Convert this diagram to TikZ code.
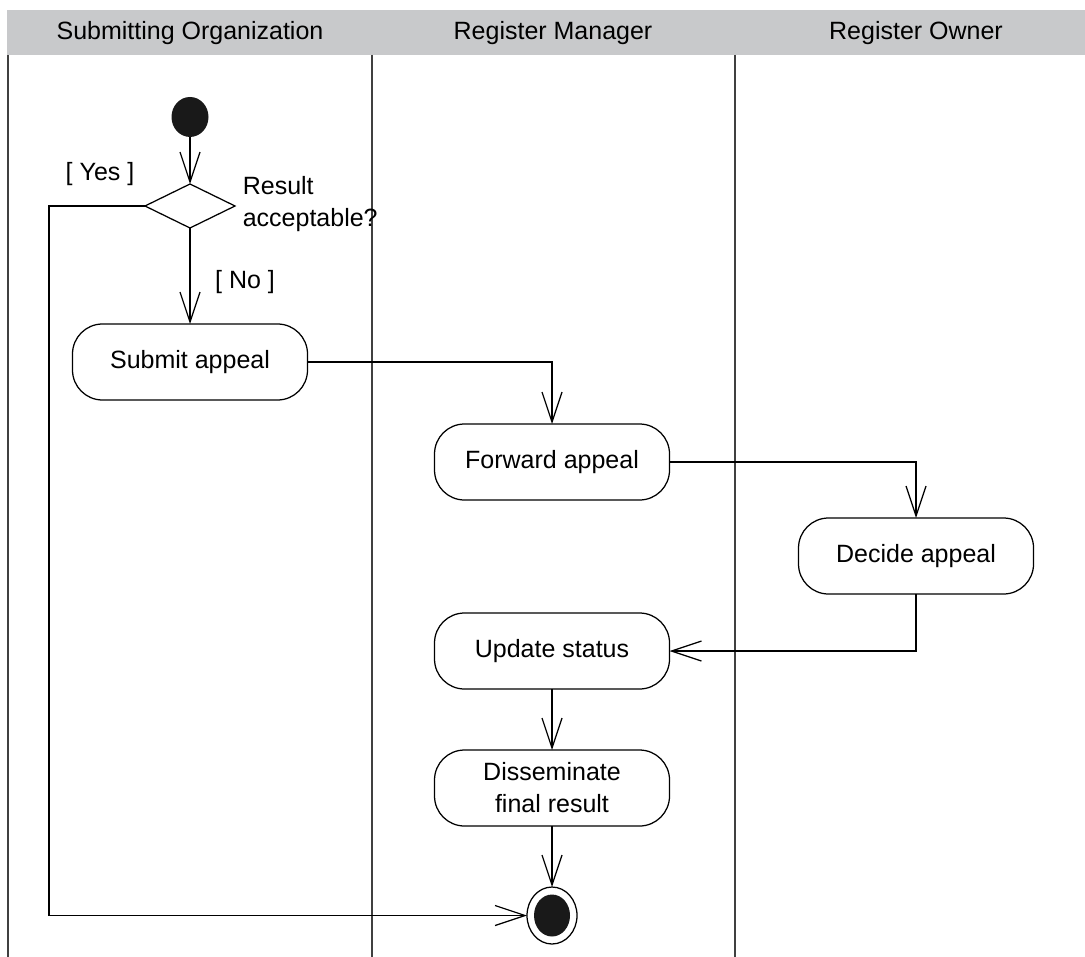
\documentclass[tikz,border=0pt]{standalone}
\usepackage{fontspec}
\setmainfont{Liberation Sans}
\usetikzlibrary{positioning,shapes.geometric,arrows.meta}
\definecolor{headgray}{RGB}{200,201,203}

\begin{document}
\begin{tikzpicture}[x=0.4pt,y=-0.4pt,font=\fontsize{10}{12.8}\selectfont,
    activity/.style={draw,line width=0.5pt,rounded corners=12pt,minimum width=94pt,minimum height=30.4pt,inner sep=0pt,outer sep=0pt,align=center},
    decision/.style={draw,line width=0.5pt,diamond,minimum width=36pt,minimum height=17.6pt,inner sep=0pt,outer sep=0pt},
    startnode/.style={ellipse,fill=black!90,minimum width=14.8pt,minimum height=16pt,inner sep=0pt,outer sep=0pt},
    endring/.style={ellipse,draw,line width=0.5pt,minimum width=20pt,minimum height=22.8pt,inner sep=0pt,outer sep=0pt},
    enddot/.style={ellipse,fill=black!90,minimum width=14.4pt,minimum height=16.8pt,inner sep=0pt},
    flow/.style={line width=0.5pt,-{Straight Barb[length=12pt,width=8pt]}},
    lane/.style={line width=0.7pt,black!75}]
    \useasboundingbox (0,0) rectangle (1085,957);
    \fill[headgray] (7,10) rectangle (1085,55);
    \node (hsub) at (190,33) {Submitting Organization};
    \node (hman) at (553,33) {Register Manager};
    \node (hown) at (916,33) {Register Owner};
    \foreach \x in {8,372,735} \draw[lane] (\x,55) -- (\x,957);
    \node[startnode] (start) at (190,117) {};
    \node[decision,below=18.8pt of start] (dec) {};
    \node[activity,below=38.4pt of dec] (submit) {Submit appeal};
    \node[activity,below right=9.6pt and 50.8pt of submit] (fwd) {Forward appeal};
    \node[activity,below right=7.2pt and 51.6pt of fwd] (decide) {Decide appeal};
    \node[activity,below=45.2pt of fwd] (upd) {Update status};
    \node[activity,below=24.4pt of upd] (diss) {Disseminate\\final result};
    \node[endring,below=24.4pt of diss] (final) {};
    \node[enddot] (finaldot) at (final) {};
    \node (yes) at (100,174) {[ Yes ]};
    \node (no) at (245,282) {[ No ]};
    \node[anchor=west,align=left] (cond) at (234,204) {Result\\acceptable?};
    \draw[flow] (start) -- (dec);
    \draw[flow] (dec) -- (submit);
    \draw[flow] (dec.west) -- ++(-96,0) |- (final);
    \draw[flow] (submit) -| (fwd);
    \draw[flow] (fwd) -| (decide);
    \draw[flow] (decide) |- (upd);
    \draw[flow] (upd) -- (diss);
    \draw[flow] (diss) -- (final);
\end{tikzpicture}
\end{document}
